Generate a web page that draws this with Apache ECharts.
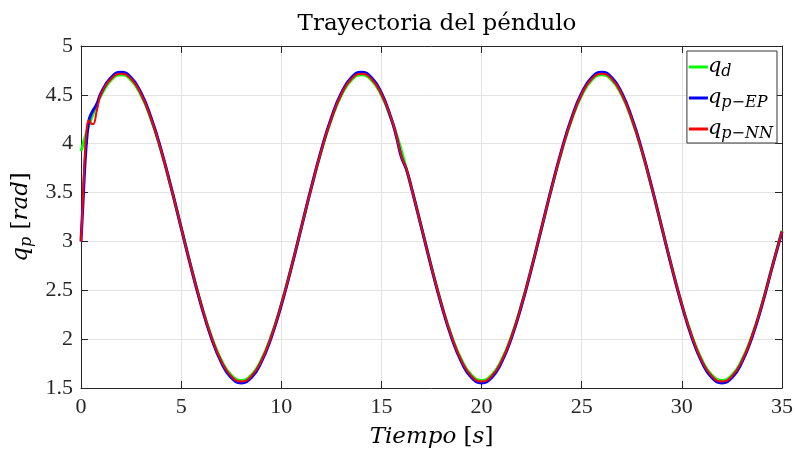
<!DOCTYPE html>
<html>
<head>
<meta charset="utf-8">
<script src="https://cdn.jsdelivr.net/npm/echarts@6/dist/echarts.min.js"></script>
<style>
  html, body { margin: 0; padding: 0; background: #fff; }
  #chart { width: 795px; height: 455px; }
</style>
</head>
<body>
<div id="chart"></div>
<script>
// Sample times [s]
const tiempo = [
  0, 0.1, 0.2, 0.3, 0.4, 0.5, 0.6, 0.8, 1.0,
  1.5, 2, 2.5, 3, 3.5, 4, 4.5, 5, 5.5, 6, 6.5, 7, 7.5, 8, 8.5, 9, 9.5, 10,
  10.5, 11, 11.5, 12, 12.5, 13, 13.5, 14, 14.5, 15, 15.5, 15.75, 16, 16.25, 16.5, 17, 17.5, 18,
  18.5, 19, 19.5, 20, 20.5, 21, 21.5, 22, 22.5, 23, 23.5, 24, 24.5, 25, 25.5, 26,
  26.5, 27, 27.5, 28, 28.5, 29, 29.5, 30, 30.5, 31, 31.5, 32, 32.5, 33, 33.5, 34,
  34.5, 35
];

// Desired trajectory q_d [rad]
const qd = [
  3.924, 3.994, 4.062, 4.127, 4.189, 4.248, 4.305, 4.408, 4.497,
  4.653, 4.707, 4.653, 4.497, 4.248, 3.924, 3.547, 3.142, 2.737, 2.359, 2.035, 1.787, 1.630, 1.577, 1.630, 1.787, 2.035, 2.359,
  2.737, 3.142, 3.547, 3.924, 4.248, 4.497, 4.653, 4.707, 4.653, 4.497, 4.248, 4.095, 3.924, 3.741, 3.547, 3.142, 2.737, 2.359,
  2.035, 1.787, 1.630, 1.577, 1.630, 1.787, 2.035, 2.359, 2.737, 3.142, 3.547, 3.924, 4.248, 4.497, 4.653, 4.707,
  4.653, 4.497, 4.248, 3.924, 3.547, 3.142, 2.737, 2.359, 2.035, 1.787, 1.630, 1.577, 1.630, 1.787, 2.035, 2.359,
  2.737, 3.110
];

// Pendulum response, EP controller
const qpEP = [
  3.000, 3.400, 3.800, 4.080, 4.240, 4.300, 4.340, 4.410, 4.519,
  4.677, 4.732, 4.677, 4.519, 4.266, 3.937, 3.553, 3.142, 2.730, 2.347, 2.017, 1.765, 1.606, 1.552, 1.606, 1.765, 2.017, 2.347,
  2.730, 3.142, 3.553, 3.937, 4.266, 4.519, 4.677, 4.732, 4.677, 4.519, 4.250, 4.070, 3.860, 3.735, 3.548, 3.142, 2.730, 2.347,
  2.017, 1.765, 1.606, 1.552, 1.606, 1.765, 2.017, 2.347, 2.730, 3.142, 3.553, 3.937, 4.266, 4.519, 4.677, 4.732,
  4.677, 4.519, 4.266, 3.937, 3.553, 3.142, 2.730, 2.347, 2.017, 1.765, 1.606, 1.552, 1.606, 1.765, 2.017, 2.347,
  2.730, 3.100
];

// Pendulum response, NN controller
const qpNN = [
  3.000, 3.450, 3.920, 4.180, 4.240, 4.210, 4.200, 4.350, 4.506,
  4.663, 4.717, 4.663, 4.506, 4.255, 3.929, 3.549, 3.142, 2.734, 2.354, 2.028, 1.778, 1.621, 1.567, 1.621, 1.778, 2.028, 2.354,
  2.734, 3.142, 3.549, 3.929, 4.255, 4.506, 4.663, 4.717, 4.663, 4.506, 4.252, 4.080, 3.870, 3.740, 3.549, 3.142, 2.734, 2.354,
  2.028, 1.778, 1.621, 1.567, 1.621, 1.778, 2.028, 2.354, 2.734, 3.142, 3.549, 3.929, 4.255, 4.506, 4.663, 4.717,
  4.663, 4.506, 4.255, 3.929, 3.549, 3.142, 2.734, 2.354, 2.028, 1.778, 1.621, 1.567, 1.621, 1.778, 2.028, 2.354,
  2.734, 3.105
];

const xTicks = { min: 0, max: 35, interval: 5 };
const yTicks = { min: 1.5, max: 5, interval: 0.5 };

const serif = '"Liberation Serif", "DejaVu Serif", serif';
const wideSerif = '"DejaVu Serif", "Liberation Serif", serif';
const axisColor = '#262626';
const gridColor = '#e3e3e3';

function pairs(xs, ys) {
  return xs.map((x, i) => [x, ys[i]]);
}

const legendLabels = {
  qd: '{q|q}{s|d}',
  qpEP: '{q|q}{s|p\u2212EP}',
  qpNN: '{q|q}{s|p\u2212NN}'
};

const chart = echarts.init(document.getElementById('chart'), null, { renderer: 'canvas' });

const boxAxis = {
  type: 'value',
  axisLine: { show: true, onZero: false, lineStyle: { color: axisColor, width: 1 } },
  axisTick: { show: true, inside: true, length: 7, lineStyle: { color: axisColor } },
  axisLabel: { show: false },
  splitLine: { show: false }
};

chart.setOption({
  animation: false,
  backgroundColor: '#fff',
  title: {
    text: 'Trayectoria del péndulo',
    left: 432, top: 8,
    textAlign: 'center',
    textStyle: { fontFamily: wideSerif, fontSize: 23, fontWeight: 'normal', color: '#000' }
  },
  grid: { left: 81, right: 13, top: 46, bottom: 67, containLabel: false, outerBoundsMode: 'none' },
  legend: {
    orient: 'vertical',
    right: 18, top: 51,
    padding: [3, 4, 1, 2],
    itemGap: 5,
    itemWidth: 19, itemHeight: 3,
    icon: 'rect',
    backgroundColor: '#fff',
    borderColor: '#333',
    borderWidth: 1,
    borderRadius: 0,
    data: ['qd', 'qpEP', 'qpNN'],
    formatter: name => legendLabels[name],
    textStyle: {
      padding: [0, 0, 0, -5],
      rich: {
        q: { fontFamily: wideSerif, fontStyle: 'italic', fontSize: 21, lineHeight: 24, color: '#000' },
        s: { fontFamily: wideSerif, fontStyle: 'italic', fontSize: 16, lineHeight: 14, padding: [10, 0, 0, 0], color: '#000' }
      }
    }
  },
  xAxis: [
    {
      type: 'value', position: 'bottom',
      min: xTicks.min, max: xTicks.max, interval: xTicks.interval,
      name: '{i|Tiempo }{b|[}{i|s}{b|]}',
      nameLocation: 'middle', nameGap: 38,
      nameTextStyle: {
        rich: {
          i: { fontFamily: wideSerif, fontStyle: 'italic', fontSize: 23, color: '#000' },
          b: { fontFamily: wideSerif, fontSize: 23, color: '#000' }
        }
      },
      axisLine: { show: true, onZero: false, lineStyle: { color: axisColor, width: 1 } },
      axisTick: { show: true, inside: true, length: 7, lineStyle: { color: axisColor } },
      axisLabel: { fontFamily: serif, fontSize: 22, color: '#262626', margin: 8 },
      splitLine: { show: true, lineStyle: { color: gridColor, width: 1 } }
    },
    Object.assign({}, boxAxis, {
      position: 'top', min: xTicks.min, max: xTicks.max, interval: xTicks.interval
    })
  ],
  yAxis: [
    {
      type: 'value', position: 'left',
      min: yTicks.min, max: yTicks.max, interval: yTicks.interval,
      name: '{i|q}{s|p}{b| [}{i|rad}{b|]}',
      nameLocation: 'middle', nameGap: 45, nameRotate: 90,
      nameTextStyle: {
        rich: {
          i: { fontFamily: wideSerif, fontStyle: 'italic', fontSize: 23, lineHeight: 28, color: '#000' },
          s: { fontFamily: wideSerif, fontStyle: 'italic', fontSize: 16, lineHeight: 16, padding: [12, 0, 0, 0], color: '#000' },
          b: { fontFamily: wideSerif, fontSize: 23, lineHeight: 28, color: '#000' }
        }
      },
      axisLine: { show: true, onZero: false, lineStyle: { color: axisColor, width: 1 } },
      axisTick: { show: true, inside: true, length: 7, lineStyle: { color: axisColor } },
      axisLabel: { fontFamily: serif, fontSize: 22, color: '#262626', margin: 8 },
      splitLine: { show: true, lineStyle: { color: gridColor, width: 1 } }
    },
    Object.assign({}, boxAxis, {
      position: 'right', min: yTicks.min, max: yTicks.max, interval: yTicks.interval
    })
  ],
  series: [
    {
      name: 'qd', type: 'line', data: pairs(tiempo, qd),
      showSymbol: false, smooth: 0.5, z: 2,
      lineStyle: { color: '#00ff00', width: 3 }, itemStyle: { color: '#00ff00' }
    },
    {
      name: 'qpEP', type: 'line', data: pairs(tiempo, qpEP),
      showSymbol: false, smooth: 0.5, z: 3,
      lineStyle: { color: '#0000ff', width: 3 }, itemStyle: { color: '#0000ff' }
    },
    {
      name: 'qpNN', type: 'line', data: pairs(tiempo, qpNN),
      showSymbol: false, smooth: 0.5, z: 4,
      lineStyle: { color: '#ff0000', width: 2 }, itemStyle: { color: '#ff0000' }
    }
  ]
});
</script>
</body>
</html>
